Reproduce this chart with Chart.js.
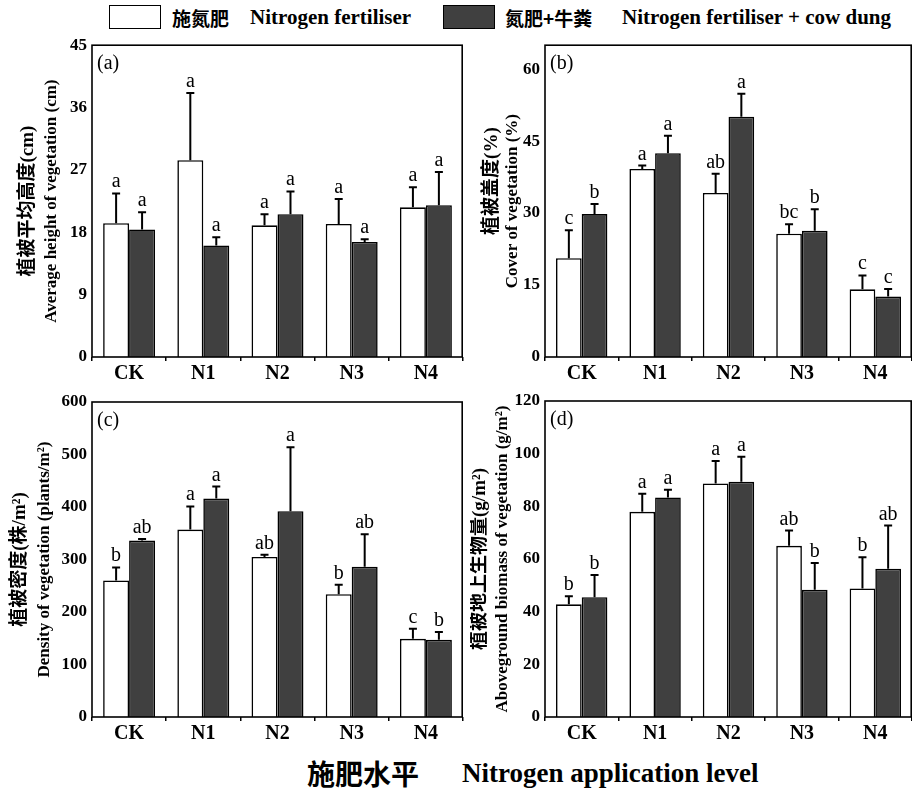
<!DOCTYPE html>
<html>
<head>
<meta charset="utf-8">
<script src="https://cdn.jsdelivr.net/npm/chart.js@4.4.1/dist/chart.umd.min.js"></script>
<style>
  body { margin: 0; background: #fff; }
  #wrap { position: relative; width: 912px; height: 792px; overflow: hidden; background: #fff; }
  canvas { position: absolute; }
  .box { position: absolute; top: 5px; width: 52px; height: 24px; border: 1.5px solid #000; box-sizing: border-box; }
  .txt { position: absolute; white-space: nowrap; color: #000; font-weight: bold; }
  .zh { font-family: 'Noto Sans CJK SC', sans-serif; }
  .en { font-family: 'Liberation Serif', 'Times New Roman', serif; }
</style>
</head>
<body>
<div id="wrap">
  <div class="box" style="left:109px;background:#fff"></div>
  <div class="txt zh" style="left:172px;top:7px;font-size:19px;line-height:21px">施氮肥</div>
  <div class="txt en" style="left:250px;top:7px;font-size:21px;line-height:21px">Nitrogen fertiliser</div>
  <div class="box" style="left:443px;background:#404040"></div>
  <div class="txt zh" style="left:505px;top:7px;font-size:19px;line-height:21px">氮肥+牛粪</div>
  <div class="txt en" style="left:622px;top:7px;font-size:21px;line-height:21px">Nitrogen fertiliser + cow dung</div>

  <canvas id="cA" width="470" height="357" style="left:0;top:30px"></canvas>
  <canvas id="cB" width="442" height="357" style="left:470px;top:30px"></canvas>
  <canvas id="cC" width="470" height="362" style="left:0;top:385px"></canvas>
  <canvas id="cD" width="442" height="362" style="left:470px;top:385px"></canvas>

  <div class="txt zh" style="left:307px;top:759px;font-size:28px;line-height:28px">施肥水平</div>
  <div class="txt en" style="left:462px;top:760px;font-size:27px;line-height:27px">Nitrogen application level</div>
</div>
<script>
const groups = ['CK', 'N1', 'N2', 'N3', 'N4'];

// (a) average height (cm)
const heightN = [19.3, 28.4, 19.0, 19.2, 21.6];
const heightNSe = [4.3, 9.7, 1.6, 3.6, 2.9];
const heightNM = [18.4, 16.1, 20.6, 16.6, 21.9];
const heightNMSe = [2.5, 1.2, 3.3, 0.4, 4.8];
const heightNLet = ['a', 'a', 'a', 'a', 'a'];
const heightNMLet = ['a', 'a', 'a', 'a', 'a'];

// (b) cover (%)
const coverN = [20.6, 39.2, 34.2, 25.7, 14.1];
const coverNSe = [5.8, 0.7, 4.0, 2.0, 2.9];
const coverNM = [29.8, 42.5, 50.1, 26.3, 12.6];
const coverNMSe = [2.1, 3.6, 4.8, 4.5, 1.6];
const coverNLet = ['c', 'a', 'ab', 'bc', 'c'];
const coverNMLet = ['b', 'a', 'a', 'b', 'c'];

// (c) density (plants/m2)
const densN = [260, 357, 305, 234, 149];
const densNSe = [25, 44, 4, 18, 19];
const densNM = [336, 416, 392, 286, 147];
const densNMSe = [3, 23, 122, 62, 15];
const densNLet = ['b', 'a', 'ab', 'b', 'c'];
const densNMLet = ['ab', 'a', 'a', 'ab', 'b'];

// (d) aboveground biomass (g/m2)
const bioN = [42.8, 77.9, 88.7, 65.0, 48.8];
const bioNSe = [3.1, 6.9, 8.5, 5.8, 11.9];
const bioNM = [45.5, 83.4, 89.3, 48.3, 56.3];
const bioNMSe = [8.4, 2.9, 9.5, 10.2, 16.4];
const bioNLet = ['b', 'a', 'a', 'ab', 'b'];
const bioNMLet = ['b', 'a', 'a', 'b', 'ab'];

const SERIF = "'Liberation Serif', 'Noto Sans CJK SC', serif";

// error bars, letters, frame, panel label and the two-line y title
const panelPlugin = {
  id: 'panel',
  afterDatasetsDraw(chart, args, o) {
    const ctx = chart.ctx, y = chart.scales.y;
    ctx.save();
    ctx.strokeStyle = '#000';
    ctx.fillStyle = '#000';
    ctx.lineWidth = 2;
    ctx.font = '20px ' + SERIF;
    ctx.textAlign = 'center';
    ctx.textBaseline = 'alphabetic';
    chart.data.datasets.forEach((ds, i) => {
      chart.getDatasetMeta(i).data.forEach((bar, j) => {
        const top = y.getPixelForValue(ds.data[j] + o.se[i][j]);
        ctx.beginPath();
        ctx.moveTo(bar.x, bar.y);
        ctx.lineTo(bar.x, top);
        ctx.moveTo(bar.x - 4, top);
        ctx.lineTo(bar.x + 4, top);
        ctx.stroke();
        ctx.fillText(o.letters[i][j], bar.x, top - 6);
      });
    });
    ctx.restore();
  },
  afterDraw(chart, args, o) {
    const ctx = chart.ctx, ca = chart.chartArea;
    ctx.save();
    ctx.strokeStyle = '#000';
    ctx.lineWidth = 1.6;
    ctx.strokeRect(ca.left, ca.top, ca.right - ca.left - 0.8, ca.bottom - ca.top);
    ctx.fillStyle = '#000';
    ctx.font = '20px ' + SERIF;
    ctx.textAlign = 'left';
    ctx.textBaseline = 'top';
    ctx.fillText(o.label, ca.left + 5, ca.top + 9);
    const cy = (ca.top + ca.bottom) / 2;
    ctx.translate(ca.left, cy);
    ctx.rotate(-Math.PI / 2);
    ctx.textAlign = 'center';
    ctx.textBaseline = 'middle';
    ctx.font = 'bold 19px ' + SERIF;
    ctx.fillText(o.zh, o.zhDy || 0, o.zhX);
    ctx.font = 'bold 17px ' + SERIF;
    ctx.fillText(o.en, 0, o.enX);
    ctx.restore();
  }
};

function makeChart(id, nVals, mVals, max, step, panel, pad, yWidth) {
  return new Chart(document.getElementById(id), {
    type: 'bar',
    data: {
      labels: groups,
      datasets: [
        { label: '施氮肥 Nitrogen fertiliser', data: nVals, backgroundColor: '#ffffff', borderColor: '#000', borderWidth: 1.6 },
        { label: '氮肥+牛粪 Nitrogen fertiliser + cow dung', data: mVals, backgroundColor: '#404040', borderColor: '#000', borderWidth: 1.6 }
      ]
    },
    options: {
      responsive: false,
      animation: false,
      layout: { padding: pad },
      datasets: { bar: { barPercentage: 1, categoryPercentage: 0.7 } },
      plugins: { legend: { display: false }, tooltip: { enabled: false }, panel: panel },
      scales: {
        x: {
          grid: { display: true, drawOnChartArea: false, drawTicks: true, tickLength: 4, color: '#000', lineWidth: 1.5 },
          border: { display: false },
          ticks: { color: '#000', padding: 1, font: { family: SERIF, size: 20, weight: 'bold' } },
          afterFit: s => { s.height = 30; }
        },
        y: {
          min: 0,
          max: max,
          grid: { display: false, drawTicks: false },
          border: { display: false },
          ticks: { stepSize: step, color: '#000', padding: 5, font: { family: SERIF, size: 17, weight: 'bold' } },
          afterBuildTicks: s => { s.ticks = s.ticks.filter(t => t.value % step === 0); },
          afterFit: s => { s.width = yWidth; }
        }
      }
    },
    plugins: [panelPlugin]
  });
}

makeChart('cA', heightN, heightNM, 45, 9, {
  label: '(a)', zh: '植被平均高度(cm)', en: 'Average height of vegetation (cm)',
  zhX: -64, enX: -40, se: [heightNSe, heightNMSe], letters: [heightNLet, heightNMLet]
}, { top: 12, right: 7, left: 0, bottom: 0 }, 92);

makeChart('cB', coverN, coverNM, 65, 15, {
  label: '(b)', zh: '植被盖度(%)', en: 'Cover of vegetation (%)',
  zhX: -53, enX: -32, zhDy: 20, se: [coverNSe, coverNMSe], letters: [coverNLet, coverNMLet]
}, { top: 12, right: 0, left: 0, bottom: 0 }, 75);

makeChart('cC', densN, densNM, 600, 100, {
  label: '(c)', zh: '植被密度(株/m²)', en: 'Density of vegetation (plants/m²)',
  zhX: -72, enX: -47, se: [densNSe, densNMSe], letters: [densNLet, densNMLet]
}, { top: 17, right: 7, left: 0, bottom: 0 }, 92);

makeChart('cD', bioN, bioNM, 120, 20, {
  label: '(d)', zh: '植被地上生物量(g/m²)', en: 'Aboveground biomass of vegetation (g/m²)',
  zhX: -65, enX: -42, se: [bioNSe, bioNMSe], letters: [bioNLet, bioNMLet]
}, { top: 16, right: 0, left: 0, bottom: 0 }, 75);
</script>
</body>
</html>
